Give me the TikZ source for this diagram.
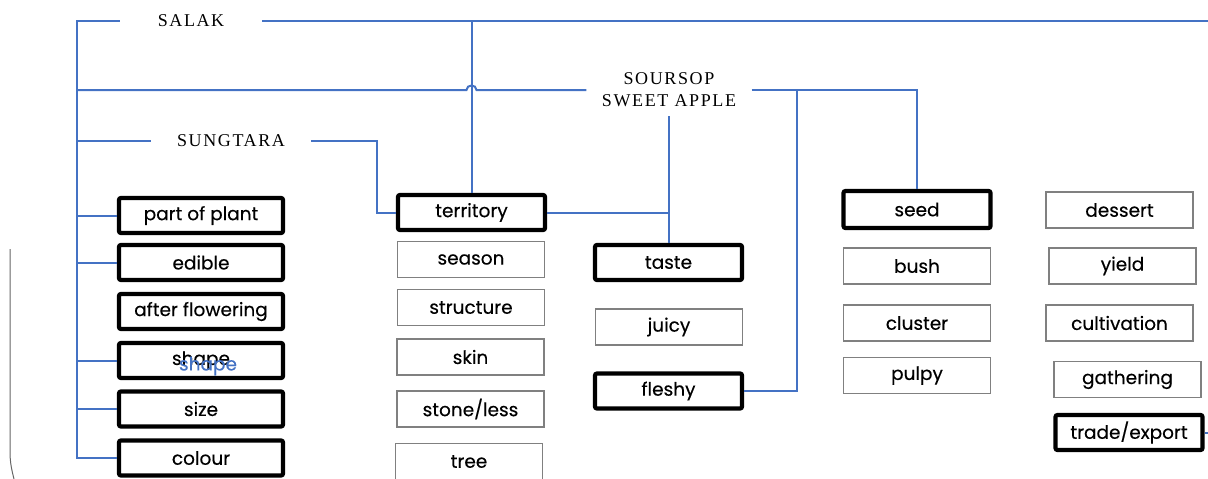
\documentclass[tikz,border=0pt]{standalone}
\usepackage{fontspec}
\newfontfamily\boxfont[FakeBold=0.3]{Poppins}
\newfontfamily\capfont[LetterSpace=9]{Liberation Serif}
\usetikzlibrary{calc}
\definecolor{linkblue}{HTML}{4472C4}
\definecolor{framegray}{HTML}{808080}
\begin{document}
\begin{tikzpicture}[x=1pt,y=-1pt,
  link/.style={draw=linkblue,line width=2pt},
  boxtext/.style={font=\boxfont\fontsize{18.5}{22}\selectfont},
  boldbox/.style={boxtext,draw=black,line width=4.2pt,rounded corners=2pt,
    minimum width=147pt,minimum height=35pt,inner sep=0pt},
  widebold/.style={boldbox,minimum width=164pt},
  plainbox/.style={boxtext,draw=framegray,line width=1.4pt,
    minimum width=147pt,minimum height=36pt,inner sep=0pt},
  caplabel/.style={font=\capfont\fontsize{18}{22}\selectfont,inner ysep=0pt,align=center}
]
\useasboundingbox (0,0) rectangle (1208,479);

% fruit names
\node[caplabel,inner xsep=38pt] (salak) at (191,21) {SALAK};
\node[caplabel,inner xsep=26pt] (sungtara) at (231,141) {SUNGTARA};
\node[caplabel,inner xsep=15.5pt,inner ysep=9pt] (fruit2) at (669,90) {SOURSOP\\SWEET APPLE};

% left column
\node[widebold] (part)   at (201,215.5) {part of plant};
\node[widebold] (edible) at (201,262.5) {edible};
\node[widebold] (after)  at (201,311.5) {after flowering};
\node[widebold] (shape)  at (201,360.5) {shape};
\node[boxtext,text=linkblue,inner sep=0pt] (shapeb) at (208,366) {shape};
\node[widebold] (size)   at (201,409)   {size};
\node[widebold] (colour) at (201,458)   {colour};

% second column
\node[boldbox]  (territory) at (471.5,212.5) {territory};
\node[plainbox] (season)    at (471,259.5)   {season};
\node[plainbox] (structure) at (471,307.5)   {structure};
\node[plainbox] (skin)      at (470.5,357)   {skin};
\node[plainbox] (stone)     at (470.5,409)   {stone/less};
\node[plainbox] (tree)      at (469,461.5)   {tree};

% third column
\node[boldbox]  (taste)  at (668.5,262.5) {taste};
\node[plainbox] (juicy)  at (669,327)     {juicy};
\node[boldbox]  (fleshy) at (668.5,391)   {fleshy};

% fourth column
\node[boldbox,minimum height=37pt] (seed) at (917,209.5) {seed};
\node[plainbox] (bush)    at (917,266)   {bush};
\node[plainbox] (cluster) at (917,323)   {cluster};
\node[plainbox] (pulpy)   at (917,375.5) {pulpy};

% fifth column
\node[plainbox] (dessert)     at (1119.5,210) {dessert};
\node[plainbox] (yield)       at (1122.5,266) {yield};
\node[plainbox] (cultivation) at (1119.5,323) {cultivation};
\node[plainbox] (gathering)   at (1127.5,379.5) {gathering};
\node[boldbox]  (trade)       at (1129,432.5) {trade/export};

% connectors
\coordinate (trunk) at (77,21);
\coordinate (fork) at (797,90);
\coordinate (rim) at (1208,21);

\draw[link] (salak.west) -- (trunk) -- (trunk |- colour.west) -- (colour.west);
\draw[link] (salak.east) -- (rim);
\foreach \n in {part,edible,shape,size}
  \draw[link] (trunk |- \n.west) -- (\n.west);
\draw[link] (trunk |- sungtara.west) -- (sungtara.west);
\draw[link] (trunk |- fruit2.west) -- (466.5,90)
  .. controls (466.5,84) and (476.5,84) .. (476.5,90) -- (fruit2.west);
\draw[link] (territory.north |- salak.east) -- (territory.north);
\draw[link] (sungtara.east) -| ($(territory.west)+(-19,0)$) -- (territory.west);
\draw[link] (territory.east) -- (taste.north |- territory.east);
\draw[link] (taste.north |- fruit2.south) -- (taste.north);
\draw[link] (fruit2.east) -| (seed.north);
\draw[link] (fleshy.east) -| (fork);
\draw[link] (trade.east) -- +(6,0);

% bracket edge at the far left
\draw[black!60,line width=1pt] (10,249) -- (10,452) .. controls (10,463) and (12,471) .. (14,479);
\end{tikzpicture}
\end{document}
